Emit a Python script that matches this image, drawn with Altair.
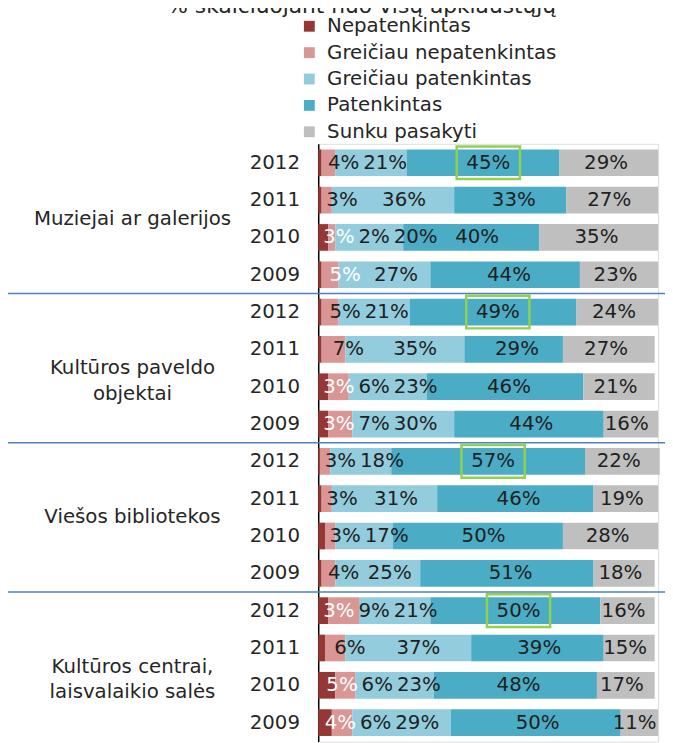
import altair as alt
import pandas as pd

# ---- data -------------------------------------------------------------
title_text = "% skaičiuojant nuo visų apklaustųjų"
groups = ["Muziejai ar galerijos", "Kultūros paveldo objektai",
          "Viešos bibliotekos", "Kultūros centrai, laisvalaikio salės"]
group_lines = [["Muziejai ar galerijos"], ["Kultūros paveldo", "objektai"],
               ["Viešos bibliotekos"], ["Kultūros centrai,", "laisvalaikio salės"]]
years = ["2012", "2011", "2010", "2009"]
series = ["Nepatenkintas", "Greičiau nepatenkintas", "Greičiau patenkintas",
          "Patenkintas", "Sunku pasakyti"]
colors = ["#953735", "#D99694", "#93CDDD", "#4BACC6", "#BFBFBF"]

# rows: group-major, years 2012..2009
nepatenkintas = [1, 1, 3, 1,   1, 1, 3, 3,   0.5, 1, 2, 1,   3, 2, 5, 4]
greiciau_nep  = [4, 3, 2, 5,   5, 7, 6, 7,   3, 3, 3, 4,     9, 6, 6, 6]
greiciau_pat  = [21, 36, 20, 27,  21, 35, 23, 30,  18, 31, 17, 25,  21, 37, 23, 29]
patenkintas   = [45, 33, 40, 44,  49, 29, 46, 44,  57, 46, 50, 51,  50, 39, 48, 50]
sunku         = [29, 27, 35, 23,  24, 27, 21, 16,  22, 19, 28, 18,  16, 15, 17, 11]

# which "Nepatenkintas" values carry a label
nep_labeled = [False, False, True, False,  False, False, True, True,
               False, False, False, False,  True, False, True, True]
gn_white = [False, False, False, True] + [False] * 12

# ---- tables -----------------------------------------------------------
row_keys = [f"{g}|{y}" for g in groups for y in years]
all_vals = [nepatenkintas, greiciau_nep, greiciau_pat, patenkintas, sunku]

bar_rows = []
for i, key in enumerate(row_keys):
    for k, s in enumerate(series):
        bar_rows.append({"row": key, "series": s, "sidx": k, "value": all_vals[k][i]})
bars_df = pd.DataFrame(bar_rows)

W = 344.0
FS = 20
pxpct = W / 100.0


def text_w(s):
    return sum(0.95 if ch == "%" else 0.636 for ch in s) * FS


lab_rows = []
for i, key in enumerate(row_keys):
    start = 0.0
    cur_right = 0.0
    first = True
    for k in range(5):
        v = all_vals[k][i]
        mid = start + v / 2.0
        show = nep_labeled[i] if k == 0 else True
        if show:
            txt = f"{int(round(v))}%"
            w = text_w(txt)
            c = mid * pxpct + 16 - 0.22 * mid
            c = max(c, cur_right + w / 2 + (0 if first else 4))
            cur_right = c + w / 2
            first = False
            white = (k == 0) or (k == 1 and gn_white[i])
            lab_rows.append({
                "row": key, "lx": c / pxpct, "txt": txt,
                "tcolor": "#ffffff" if white else "#1f1f1f",
                "box": (k == 3 and key.endswith("|2012")),
            })
        start += v
lab_df = pd.DataFrame(lab_rows)
box_df = lab_df[lab_df["box"]].copy()

grp_df = pd.DataFrame({"row": [f"{g}|2011" for g in groups], "lines": group_lines})
sep_df = pd.DataFrame({"row": [f"{g}|2012" for g in groups[1:]]})
title_df = pd.DataFrame({"t": [title_text]})

# ---- chart ------------------------------------------------------------
FONT = "DejaVu Sans"
ysort = row_keys
step = 605 / (16 - 0.285 + 2 * 0.15)

yenc = alt.Y("row:N", sort=ysort,
             scale=alt.Scale(paddingInner=0.285, paddingOuter=0.15),
             axis=alt.Axis(title=None, labelExpr="split(datum.label, '|')[1]",
                           ticks=False, tickSize=0, domain=True, domainColor="#000000",
                           domainWidth=1.5, labelFont=FONT, labelFontSize=FS,
                           labelColor="#262626", labelPadding=19, labelAlign="right",
                           labelBaseline="middle", grid=False))

bars = alt.Chart(bars_df).mark_bar(opacity=1).encode(
    x=alt.X("value:Q", stack="zero",
            scale=alt.Scale(domain=[0, 100], nice=False, zero=True), axis=None),
    y=yenc,
    color=alt.Color("series:N", scale=alt.Scale(domain=series, range=colors),
                    legend=alt.Legend(title=None, orient="none", legendX=-19, legendY=-129,
                                      symbolType="square", symbolSize=121,
                                      symbolStrokeWidth=0, labelFont=FONT,
                                      labelFontSize=FS, labelColor="#262626",
                                      labelOffset=8, rowPadding=6.7, padding=0,
                                      offset=0, labelLimit=400)),
    order=alt.Order("sidx:Q"),
)

labels = alt.Chart(lab_df).mark_text(font=FONT, fontSize=FS, align="center",
                                     baseline="middle").encode(
    x=alt.X("lx:Q"),
    y=alt.Y("row:N", sort=ysort),
    text="txt:N",
    color=alt.Color("tcolor:N", scale=None),
)

box_path = "M-1,-0.516L1,-0.516L1,0.516L-1,0.516Z"
boxes = alt.Chart(box_df).mark_point(shape=box_path, size=64 * 64, filled=False,
                                     stroke="#92D050", strokeWidth=2.5,
                                     opacity=1).encode(
    x=alt.X("lx:Q"),
    y=alt.Y("row:N", sort=ysort),
)

grp_labels = alt.Chart(grp_df).mark_text(font=FONT, fontSize=FS, align="center",
                                         baseline="middle", lineHeight=26,
                                         dy=step / 2, color="#262626").encode(
    x=alt.value(-188),
    y=alt.Y("row:N", sort=ysort),
    text="lines",
)

seps = alt.Chart(sep_df).mark_rule(color="#4F81BD", strokeWidth=1.5,
                                   yOffset=-step / 2).encode(
    x=alt.value(-314), x2=alt.value(352),
    y=alt.Y("row:N", sort=ysort),
)

title = alt.Chart(title_df).mark_text(font=FONT, fontSize=22, align="center",
                                      baseline="alphabetic",
                                      color="#262626").encode(
    x=alt.value(44), y=alt.value(-132.5), text="t:N",
)

chart = alt.layer(bars, labels, boxes, grp_labels, seps, title).properties(
    width=W, height=605,
    autosize=alt.AutoSizeParams(type="none"),
    padding={"left": 314, "top": 133, "right": 7, "bottom": 0},
).configure_view(stroke=None).configure(background="#ffffff")

chart.save("out.html", embed_options={"renderer": "svg", "actions": False})
